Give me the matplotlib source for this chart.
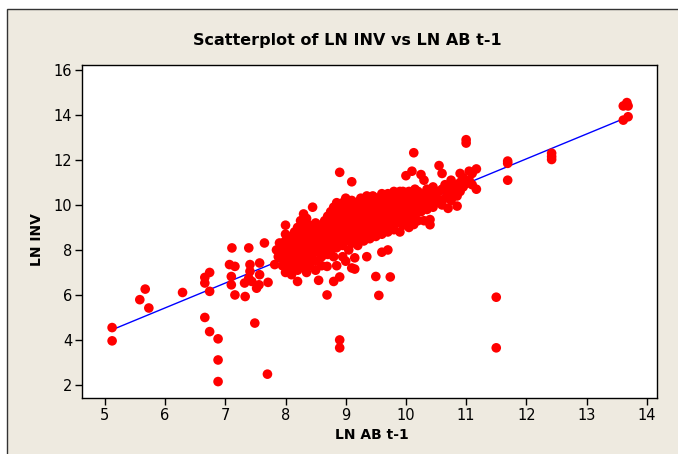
import numpy as np
import matplotlib.pyplot as plt
from matplotlib.patches import Rectangle

# LN AB t-1 (x) and LN INV (y), column by column
cols = {
    5.12: [4.55, 3.96],
    5.58: [5.79], 5.67: [6.26], 5.73: [5.42],
    6.29: [6.11],
    6.66: [5.0, 6.78, 6.53], 6.74: [4.37, 7.0, 6.16],
    6.88: [4.05, 3.11, 2.15],
    7.07: [7.35], 7.1: [6.82, 6.45], 7.11: [8.09], 7.16: [7.27, 6.0],
    7.32: [6.53], 7.33: [5.93], 7.39: [8.09, 6.75], 7.41: [7.35, 7.05],
    7.44: [6.6], 7.49: [4.75], 7.52: [6.3], 7.56: [6.45], 7.57: [7.42, 6.9],
    7.65: [8.31], 7.70: [2.48], 7.71: [6.56], 7.82: [7.35], 7.85: [8.0],
    7.88: [7.7], 7.9: [8.31],
    7.95: [7.6, 8.0, 8.3, 7.3],
    8.0: [7.0, 7.8, 8.1, 8.4, 8.7, 9.1],
    8.05: [7.5, 7.2, 8.5, 7.9],
    8.1: [7.4, 7.7, 8.2, 8.6, 8.0, 6.9],
    8.15: [7.3, 7.9, 8.4, 8.8, 7.6],
    8.2: [7.1, 7.6, 8.0, 8.3, 8.7, 9.0, 6.6],
    8.25: [7.4, 7.8, 8.2, 8.5, 8.9, 9.3],
    8.3: [7.2, 7.7, 8.1, 8.4, 8.8, 9.2, 7.5, 9.6],
    8.35: [7.0, 7.9, 8.3, 8.6, 9.0, 9.4],
    8.4: [7.6, 8.0, 8.5, 8.8, 9.1, 7.3],
    8.45: [7.8, 8.2, 8.7, 9.0, 9.9, 8.4],
    8.5: [7.5, 8.0, 8.4, 8.9, 9.2, 7.1],
    8.55: [7.9, 8.3, 8.6, 9.1, 6.65],
    8.6: [7.7, 8.2, 8.5, 8.8, 9.0, 7.3],
    8.65: [8.0, 8.4, 8.9, 9.3],
    8.69: [6.0, 7.27],
    8.7: [8.2, 8.6, 9.1, 9.5, 7.8],
    8.75: [8.0, 8.5, 8.9, 9.2, 9.7],
    8.8: [7.7, 8.3, 8.7, 9.0, 9.4, 9.9, 6.6],
    8.85: [7.3, 8.1, 8.6, 9.1, 9.6, 10.1],
    8.9: [6.8, 8.4, 8.8, 9.2, 9.5, 9.8, 4.0, 3.65, 11.45],
    8.95: [8.2, 8.6, 9.0, 9.3, 9.7, 10.1, 7.7],
    9.0: [7.5, 8.4, 8.8, 9.1, 9.4, 9.8, 10.3],
    9.05: [8.0, 8.6, 9.0, 9.3, 9.6, 10.0],
    9.1: [7.2, 8.3, 8.8, 9.2, 9.5, 9.9, 10.2, 11.03],
    9.15: [7.15, 8.5, 8.9, 9.3, 9.7, 10.1, 7.65],
    9.2: [8.2, 8.7, 9.1, 9.4, 9.8, 10.1],
    9.25: [8.6, 9.0, 9.4, 9.6, 9.9, 10.3],
    9.3: [8.4, 8.8, 9.2, 9.5, 9.8, 10.2, 9.0],
    9.35: [8.7, 9.1, 9.4, 9.7, 10.0, 10.4, 7.7],
    9.4: [8.5, 8.9, 9.3, 9.6, 9.9, 10.3],
    9.45: [8.8, 9.2, 9.5, 9.8, 10.1, 10.4],
    9.5: [8.6, 9.0, 9.4, 9.7, 10.0, 10.3, 6.82],
    9.55: [8.9, 9.3, 9.6, 9.9, 10.2, 5.98],
    9.6: [7.9, 8.7, 9.1, 9.5, 9.8, 10.1, 10.5],
    9.65: [9.0, 9.4, 9.7, 10.0, 10.3],
    9.7: [8.8, 9.2, 9.6, 9.9, 10.2, 10.5, 8.0],
    9.74: [6.8],
    9.75: [9.1, 9.5, 9.8, 10.1, 10.4],
    9.8: [8.9, 9.3, 9.7, 10.0, 10.3, 10.6],
    9.85: [9.2, 9.6, 9.9, 10.2, 10.5],
    9.9: [8.8, 9.4, 9.8, 10.1, 10.4, 10.6],
    9.95: [9.1, 9.6, 10.0, 10.3, 10.6],
    10.0: [9.3, 9.7, 10.1, 10.4, 11.3],
    10.05: [9.0, 9.5, 9.9, 10.3, 10.6],
    10.1: [9.2, 9.6, 10.0, 10.5, 11.5],
    10.13: [12.32, 9.13],
    10.15: [9.5, 9.8, 10.2, 10.7],
    10.2: [9.3, 10.0, 10.3, 10.6],
    10.25: [9.7, 10.1, 10.4, 11.35],
    10.3: [9.3, 9.9, 10.2, 10.5, 11.1],
    10.35: [9.8, 10.4, 10.7],
    10.4: [9.35, 9.12, 10.1, 10.5],
    10.45: [9.9, 10.3, 10.8],
    10.5: [10.1, 10.5, 10.3],
    10.55: [10.2, 10.6, 11.75],
    10.6: [10.0, 10.7, 11.4],
    10.65: [10.3, 10.9],
    10.7: [9.85, 10.5, 10.8],
    10.75: [10.2, 10.6, 11.1],
    10.8: [10.4, 10.9],
    10.85: [9.95, 10.4, 10.7],
    10.9: [10.6, 11.0, 11.4],
    10.95: [10.8, 11.2],
    11.0: [11.0, 12.9, 12.75, 10.95],
    11.05: [11.1, 11.5],
    11.1: [11.4, 10.9],
    11.17: [11.6, 10.7],
    11.5: [5.9, 3.65],
    11.69: [11.95, 11.85, 11.1],
    12.42: [12.3, 12.15, 12.02],
    13.61: [14.4, 13.77],
    13.67: [14.55],
    13.69: [14.4, 13.92],
}
ln_ab = np.array([x for x, ys in cols.items() for _ in ys])
ln_inv = np.array([y for ys in cols.values() for y in ys])

# fitted line as drawn in the reference
fit_intercept = -1.20
fit_slope = 1.104

x_ticks = [5, 6, 7, 8, 9, 10, 11, 12, 13, 14]
y_ticks = [2, 4, 6, 8, 10, 12, 14, 16]

narrow = ['Liberation Sans Narrow', 'DejaVu Sans']

fig = plt.figure(figsize=(6.78, 4.54), dpi=100, facecolor='white')
fig.patches.append(Rectangle((7 / 678, -0.1), 1.2, 1 - 9 / 454 + 0.1,
                             transform=fig.transFigure, facecolor='#EEEAE0',
                             edgecolor='#333333', linewidth=1.0, zorder=-1))

ax = fig.add_axes([82 / 678, 1 - 398 / 454, 575 / 678, 333 / 454])
ax.set_zorder(2)
ax.set_facecolor('white')

xl = np.array([ln_ab.min(), 13.6])
ax.plot(xl, fit_intercept + fit_slope * xl, color='#0000FF', lw=1.0, zorder=2)
ax.scatter(ln_ab, ln_inv, s=48, color='#FF0000', edgecolors='none', zorder=3)

ax.set_xlim(4.62, 14.17)
ax.set_ylim(1.42, 16.22)
ax.set_xticks(x_ticks)
ax.set_yticks(y_ticks)
ax.tick_params(direction='out', length=5, width=1, color='black',
               labelsize=10.5, pad=2)
for lab in ax.get_xticklabels() + ax.get_yticklabels():
    lab.set_family(narrow)
for s in ax.spines.values():
    s.set_linewidth(1.0)
    s.set_color('black')

fig.text(347 / 678, 1 - 41 / 454, 'Scatterplot of LN INV vs LN AB t-1',
         ha='center', va='center', fontsize=11.5, fontweight='bold', family=narrow)
fig.text(372 / 678, 1 - 435 / 454, 'LN AB t-1', ha='center', va='center',
         fontsize=10, fontweight='bold', family=narrow)
fig.text(37 / 678, 1 - 240 / 454, 'LN INV', ha='center', va='center',
         rotation=90, fontsize=10, fontweight='bold', family=narrow)

fig.savefig('out.png', dpi=100, facecolor=fig.get_facecolor())
